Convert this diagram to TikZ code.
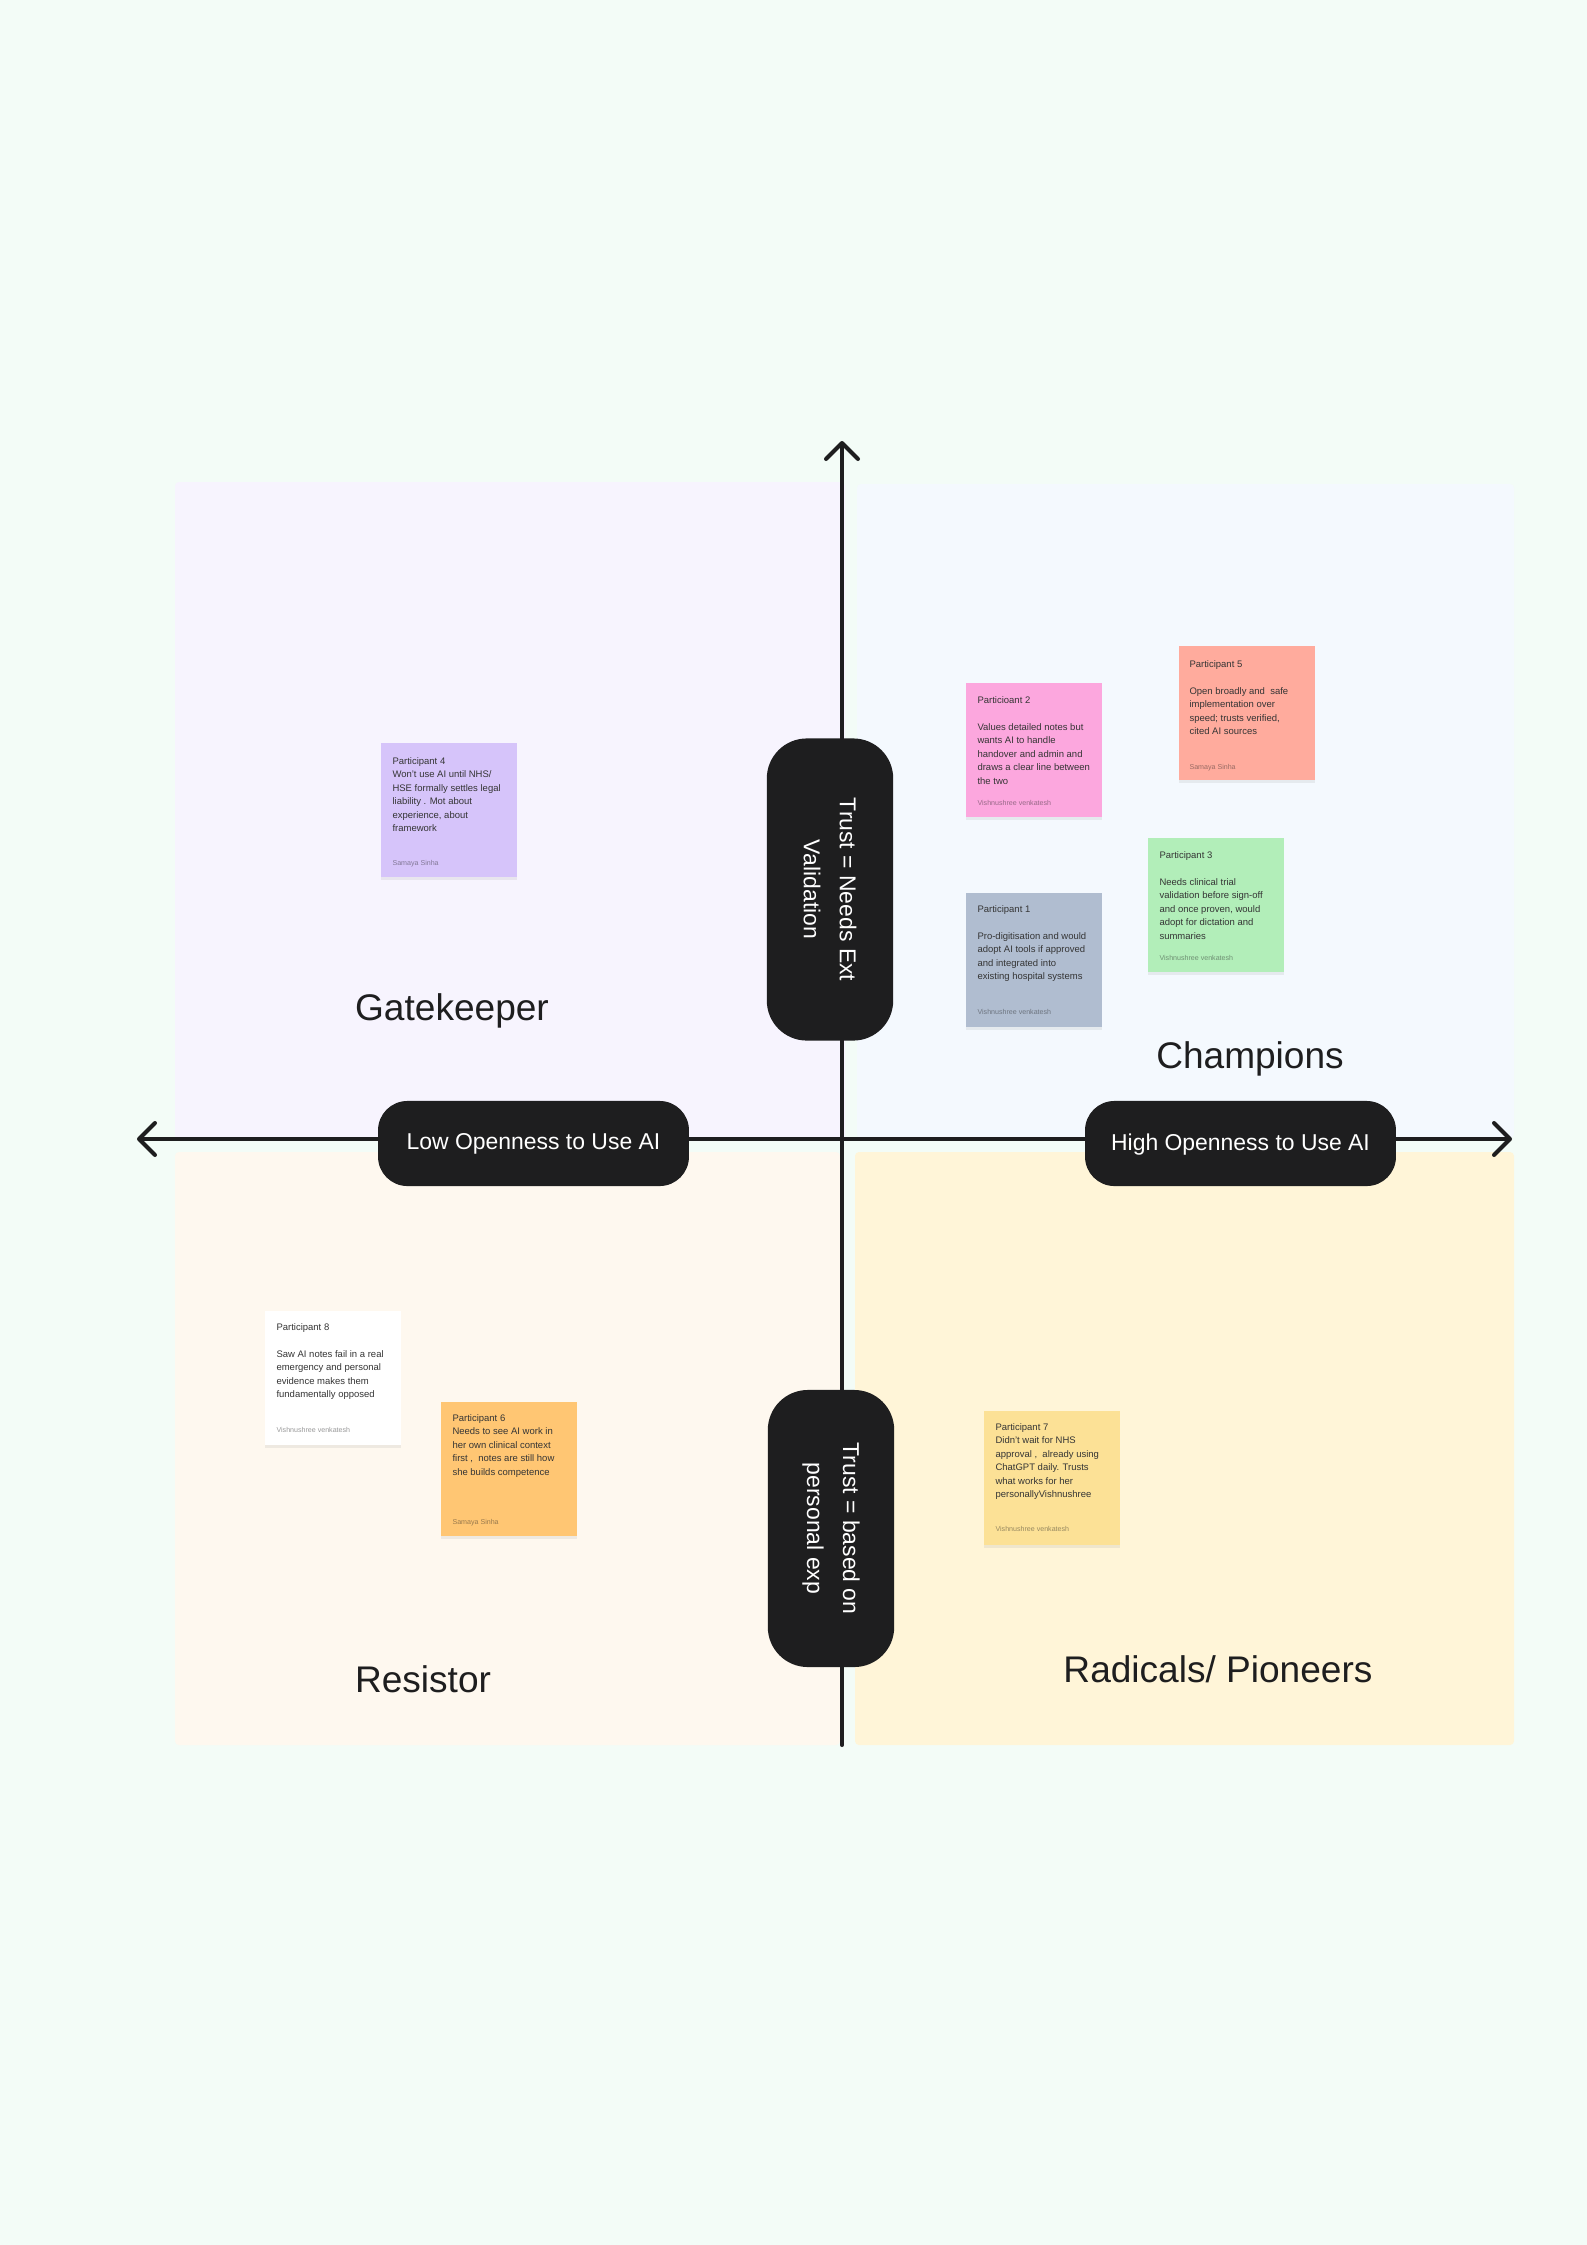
\documentclass[tikz,border=0pt]{standalone}
\usepackage{fontspec}
\setmainfont{Liberation Sans}
\usetikzlibrary{arrows.meta,shadows}
\definecolor{pagebg}{RGB}{243,252,247}
\definecolor{ink}{RGB}{30,30,31}
\definecolor{ulfill}{RGB}{247,244,254}
\definecolor{urfill}{RGB}{244,249,254}
\definecolor{llfill}{RGB}{254,248,239}
\definecolor{lrfill}{RGB}{255,245,216}
\definecolor{lilac}{RGB}{214,196,250}
\definecolor{pink}{RGB}{252,167,222}
\definecolor{salmon}{RGB}{255,171,157}
\definecolor{mint}{RGB}{178,238,185}
\definecolor{slate}{RGB}{176,189,208}
\definecolor{peach}{RGB}{255,198,115}
\definecolor{butter}{RGB}{252,225,150}

\begin{document}
\begin{tikzpicture}[x=0.375pt,y=-0.375pt,
  >={Straight Barb[length=6pt,width=12pt,line cap=round,line join=round]},
  axis/.style={draw=ink,line width=1.5pt,line cap=round},
  hpill/.style={fill=ink,text=white,rounded corners=11pt,minimum width=116.6pt,minimum height=31.9pt,font=\fontsize{8.6pt}{13.5pt}\selectfont},
  vpill/.style={fill=ink,text=white,rounded corners=15pt,rotate=-90,align=center,minimum height=47.4pt,font=\fontsize{8.6pt}{13.5pt}\selectfont},
  quadlabel/.style={text=ink,font=\fontsize{13.9pt}{16pt}\selectfont},
  sticky/.style={anchor=north west,minimum width=51pt,minimum height=50.6pt,drop shadow={shadow xshift=0pt,shadow yshift=-1pt,opacity=.12}},
  notetext/.style={anchor=north west,align=left,text=ink!90,font=\fontsize{3.56pt}{5.06pt}\selectfont},
  author/.style={anchor=base west,text=ink,text opacity=.45,font=\fontsize{2.66pt}{3pt}\selectfont}]
\tikzstyle{every node}+=[inner sep=0pt]
\useasboundingbox (0,0) rectangle (1587,2245);
\fill [pagebg] (0,0) rectangle (1587,2245);
\fill [ulfill, rounded corners=1.5pt] (175,482) rectangle (845,1141);
\fill [urfill, rounded corners=1.5pt] (857,484) rectangle (1514,1138);
\fill [llfill, rounded corners=1.5pt] (175,1152) rectangle (840,1745);
\fill [lrfill, rounded corners=1.5pt] (855,1152) rectangle (1514,1745);
\coordinate (west) at (137,1139);
\coordinate (east) at (1512,1139);
\coordinate (north) at (842,441);
\coordinate (south) at (842,1745);
\draw [axis,<->] (west) -- (east);
\draw [axis,->] (south) -- (north);
\node [hpill, text depth=1.2pt] (low) at (533.5,1143.5) {Low Openness to Use AI};
\node [hpill, text depth=1.2pt] (high) at (1240.5,1143.5) {High Openness to Use AI};
\node [vpill, minimum width=113.3pt] (extval) at (830,889.5) {Trust = Needs Ext\\Validation};
\node [vpill, minimum width=103.9pt] (ownexp) at (831,1528.5) {Trust = based on\\personal exp};
\node [quadlabel] (gate) at (452,1011) {Gatekeeper};
\node [quadlabel] (champ) at (1250,1059) {Champions};
\node [quadlabel] (resist) at (423,1679) {Resistor};
\node [quadlabel] (radical) at (1218,1669) {Radicals/ Pioneers};
\node [sticky, fill=lilac] (part4) at (380,742) {};
\node [notetext] (part4t) at ([shift={(12,15)}]part4.north west) {Participant 4\\Won't use AI until NHS/\\HSE formally settles legal\\liability . Mot about\\experience, about\\framework};
\node [author] (part4a) at ([shift={(12,123)}]part4.north west) {Samaya Sinha};
\node [sticky, fill=pink] (part2) at (965,682) {};
\node [notetext] (part2t) at ([shift={(12,14)}]part2.north west) {Particioant 2\\[5.06pt]Values detailed notes but\\wants AI to handle\\handover and admin and\\draws a clear line between\\the two};
\node [author] (part2a) at ([shift={(12,123)}]part2.north west) {Vishnushree venkatesh};
\node [sticky, fill=salmon] (part5) at (1178,645) {};
\node [notetext] (part5t) at ([shift={(11,15)}]part5.north west) {Participant 5\\[5.06pt]Open broadly and\ \ safe\\implementation over\\speed; trusts verified,\\cited AI sources};
\node [author] (part5a) at ([shift={(11,124)}]part5.north west) {Samaya Sinha};
\node [sticky, fill=mint] (part3) at (1147,837) {};
\node [notetext] (part3t) at ([shift={(12,14)}]part3.north west) {Participant 3\\[5.06pt]Needs clinical trial\\validation before sign-off\\and once proven, would\\adopt for dictation and\\summaries};
\node [author] (part3a) at ([shift={(12,123)}]part3.north west) {Vishnushree venkatesh};
\node [sticky, fill=slate] (part1) at (965,892) {};
\node [notetext] (part1t) at ([shift={(12,13)}]part1.north west) {Participant 1\\[5.06pt]Pro-digitisation and would\\adopt AI tools if approved\\and integrated into\\existing hospital systems};
\node [author] (part1a) at ([shift={(12,122)}]part1.north west) {Vishnushree venkatesh};
\node [sticky, fill=white] (part8) at (264,1310) {};
\node [notetext] (part8t) at ([shift={(12,13)}]part8.north west) {Participant 8\\[5.06pt]Saw AI notes fail in a real\\emergency and personal\\evidence makes them\\fundamentally opposed};
\node [author] (part8a) at ([shift={(12,122)}]part8.north west) {Vishnushree venkatesh};
\node [sticky, fill=peach] (part6) at (440,1401) {};
\node [notetext] (part6t) at ([shift={(12,13)}]part6.north west) {Participant 6\\Needs to see AI work in\\her own clinical context\\first ,\ \ notes are still how\\she builds competence};
\node [author] (part6a) at ([shift={(12,123)}]part6.north west) {Samaya Sinha};
\node [sticky, fill=butter] (part7) at (983,1410) {};
\node [notetext] (part7t) at ([shift={(12,13)}]part7.north west) {Participant 7\\Didn't wait for NHS\\approval ,\ \ already using\\ChatGPT daily. Trusts\\what works for her\\personallyVishnushree};
\node [author] (part7a) at ([shift={(12,121)}]part7.north west) {Vishnushree venkatesh};
\end{tikzpicture}
\end{document}
